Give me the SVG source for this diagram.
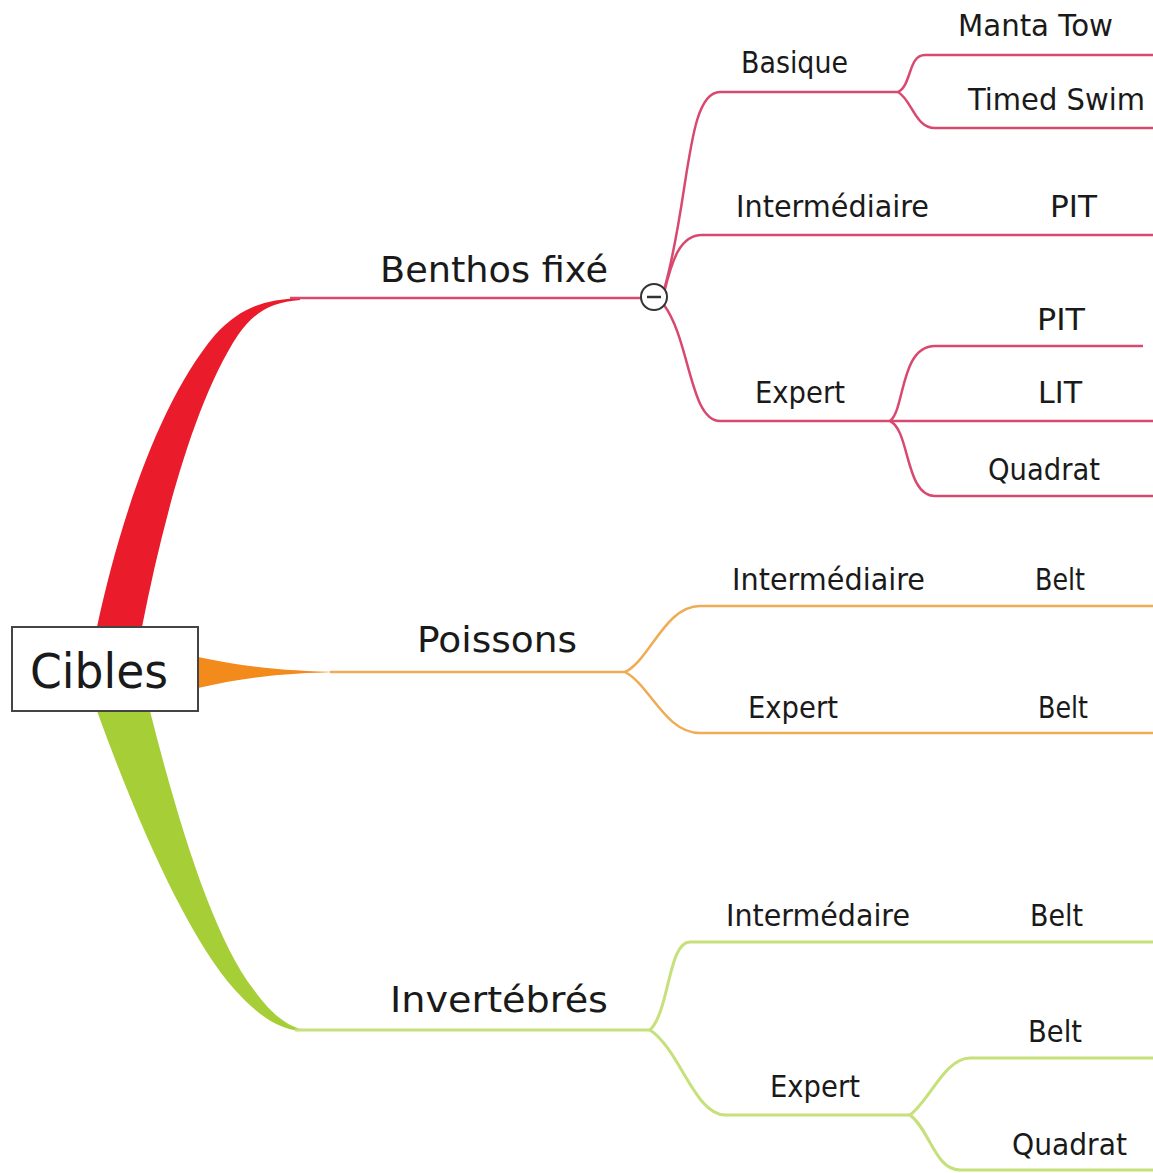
<svg xmlns="http://www.w3.org/2000/svg" width="1153" height="1173" viewBox="0 0 1153 1173">
<style>
.t{font-family:"DejaVu Sans","Liberation Sans",sans-serif;font-size:30px;fill:#1a1a1a}
.big{font-size:36px}
.root{font-size:48px}
.r{fill:none;stroke:#d8486f;stroke-width:2.5}
.o{fill:none;stroke:#f0ac55;stroke-width:2.5}
.g{fill:none;stroke:#c6e07a;stroke-width:3}
</style>
<rect width="1153" height="1173" fill="#ffffff"/>
<g id="connectors">
<path d="M97 627 C120 520 160 400 215 335 C242 306 265 300 300 298 L300 300 C272 302 254 312 238 335 C195 400 163 520 142 627 Z" fill="#ea1c2c"/>
<path d="M198 657 C250 668 290 671 340 672 C290 673 250 676 198 688 Z" fill="#f28a1c"/>
<path d="M97 711 C140 830 190 940 235 990 C258 1015 276 1028 300 1031 L300 1029 C284 1024 270 1012 254 990 C215 940 180 830 150 711 Z" fill="#a6cf37"/>
<path class="r" d="M290 298 L641 298"/>
<path class="r" d="M664 290 C690 200 686 92 720 92 L898 92"/>
<path class="r" d="M664 293 C672 260 680 235 702 235 L1153 235"/>
<path class="r" d="M664 305 C690 340 690 421 720 421 L892 421"/>
<path class="r" d="M898 92 C912 85 908 55 925 55 L1153 55"/>
<path class="r" d="M898 92 C912 100 915 128 935 128 L1153 128"/>
<path class="r" d="M890 421 C905 410 900 346 935 346 L1143 346"/>
<path class="r" d="M890 421 L1153 421"/>
<path class="r" d="M890 421 C910 430 905 496 935 496 L1153 496"/>
<path class="o" d="M330 672 L625 672"/>
<path class="o" d="M625 672 C650 660 665 606 700 606 L1153 606"/>
<path class="o" d="M625 672 C650 685 665 733 700 733 L1153 733"/>
<path class="g" d="M295 1030 L650 1030"/>
<path class="g" d="M650 1030 C670 1010 668 942 690 942 L1153 942"/>
<path class="g" d="M650 1030 C680 1050 695 1115 725 1115 L910 1115"/>
<path class="g" d="M910 1115 C930 1100 945 1058 970 1058 L1153 1058"/>
<path class="g" d="M910 1115 C930 1130 935 1170 960 1170 L1153 1170"/>
</g>
<g id="collapse">
<circle cx="654" cy="297" r="13" fill="#ffffff" stroke="#333333" stroke-width="2"/>
<line x1="647" y1="297" x2="661" y2="297" stroke="#333333" stroke-width="2.5"/>
</g>
<g id="cibles">
<rect x="12" y="627" width="186" height="84" fill="#ffffff" stroke="#444444" stroke-width="2"/>
<text class="t root" x="30" y="688" textLength="138" lengthAdjust="spacingAndGlyphs">Cibles</text>
</g>
<g id="benthos"><text class="t big" x="380" y="282" textLength="228" lengthAdjust="spacingAndGlyphs">Benthos fixé</text></g>
<g id="b-basique"><text class="t" x="741" y="73" textLength="107" lengthAdjust="spacingAndGlyphs">Basique</text></g>
<g id="b-manta"><text class="t" x="958" y="36" textLength="155" lengthAdjust="spacingAndGlyphs">Manta Tow</text></g>
<g id="b-timed"><text class="t" x="968" y="110" textLength="177" lengthAdjust="spacingAndGlyphs">Timed Swim</text></g>
<g id="b-inter"><text class="t" x="736" y="217" textLength="193" lengthAdjust="spacingAndGlyphs">Intermédiaire</text></g>
<g id="b-inter-pit"><text class="t" x="1050" y="217" textLength="47" lengthAdjust="spacingAndGlyphs">PIT</text></g>
<g id="b-expert"><text class="t" x="755" y="403" textLength="90" lengthAdjust="spacingAndGlyphs">Expert</text></g>
<g id="b-exp-pit"><text class="t" x="1037" y="330" textLength="48" lengthAdjust="spacingAndGlyphs">PIT</text></g>
<g id="b-exp-lit"><text class="t" x="1038" y="403" textLength="44" lengthAdjust="spacingAndGlyphs">LIT</text></g>
<g id="b-exp-quadrat"><text class="t" x="988" y="480" textLength="112" lengthAdjust="spacingAndGlyphs">Quadrat</text></g>
<g id="poissons"><text class="t big" x="417" y="652" textLength="160" lengthAdjust="spacingAndGlyphs">Poissons</text></g>
<g id="p-inter"><text class="t" x="732" y="590" textLength="193" lengthAdjust="spacingAndGlyphs">Intermédiaire</text></g>
<g id="p-inter-belt"><text class="t" x="1035" y="590" textLength="50" lengthAdjust="spacingAndGlyphs">Belt</text></g>
<g id="p-expert"><text class="t" x="748" y="718" textLength="90" lengthAdjust="spacingAndGlyphs">Expert</text></g>
<g id="p-exp-belt"><text class="t" x="1038" y="718" textLength="50" lengthAdjust="spacingAndGlyphs">Belt</text></g>
<g id="invertebres"><text class="t big" x="390" y="1012" textLength="218" lengthAdjust="spacingAndGlyphs">Invertébrés</text></g>
<g id="i-inter"><text class="t" x="726" y="926" textLength="184" lengthAdjust="spacingAndGlyphs">Intermédaire</text></g>
<g id="i-inter-belt"><text class="t" x="1030" y="926" textLength="53" lengthAdjust="spacingAndGlyphs">Belt</text></g>
<g id="i-expert"><text class="t" x="770" y="1097" textLength="90" lengthAdjust="spacingAndGlyphs">Expert</text></g>
<g id="i-exp-belt"><text class="t" x="1028" y="1042" textLength="54" lengthAdjust="spacingAndGlyphs">Belt</text></g>
<g id="i-exp-quadrat"><text class="t" x="1012" y="1155" textLength="115" lengthAdjust="spacingAndGlyphs">Quadrat</text></g>
</svg>
